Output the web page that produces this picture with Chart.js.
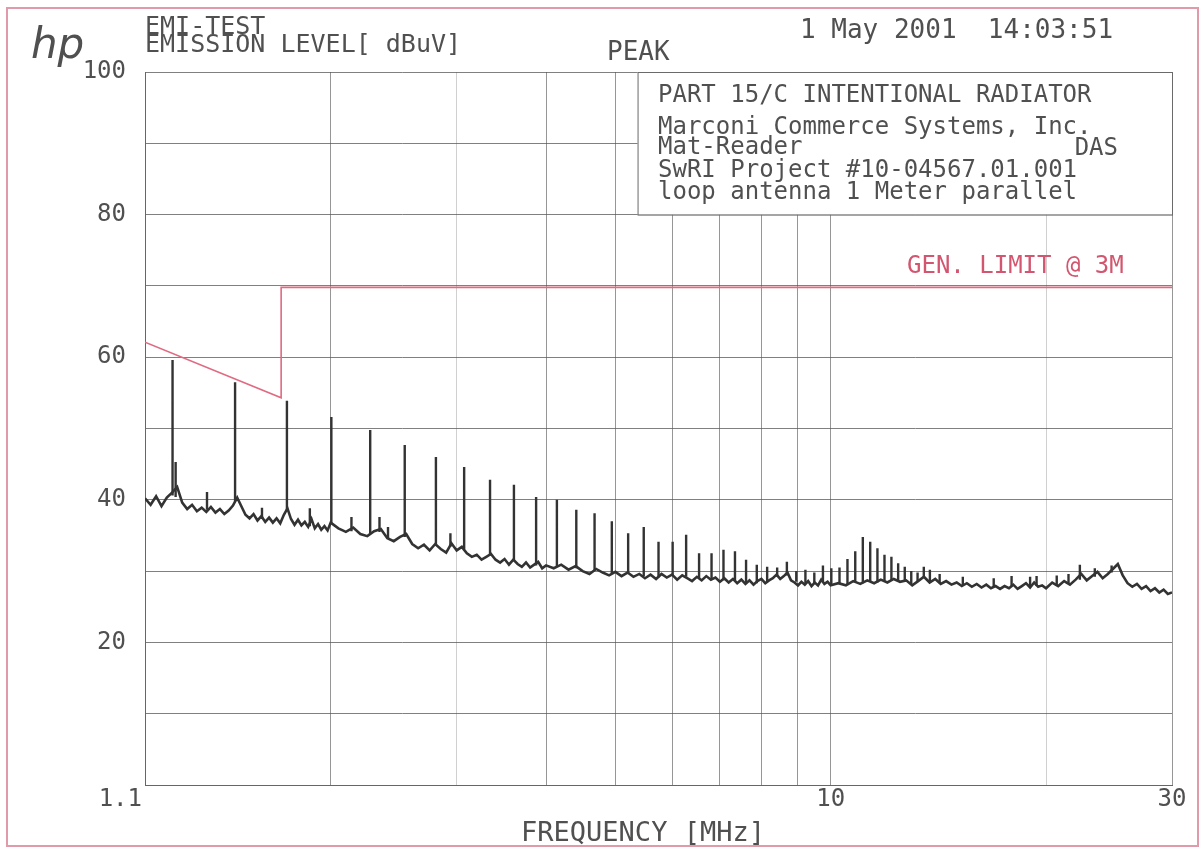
<!DOCTYPE html>
<html><head><meta charset="utf-8">
<script src="https://cdn.jsdelivr.net/npm/chart.js@4/dist/chart.umd.min.js"></script>
<style>html,body{margin:0;padding:0;background:#fff}canvas{display:block}</style>
</head><body>
<canvas id="c" width="1204" height="852"></canvas>
<script>
// ---- measured noise floor (frequency MHz, level dBuV) ----
const floorFreq = [
 1.10,1.12,1.14,1.16,1.18,1.20,1.22,1.24,1.26,1.28,1.30,1.32,1.34,1.36,1.38,1.40,1.42,1.44,1.46,1.48,
 1.50,1.52,1.54,1.56,1.58,1.60,1.62,1.64,1.66,1.68,1.70,1.72,1.74,1.76,1.78,1.80,1.82,1.84,1.86,1.88,
 1.90,1.92,1.94,1.96,1.98,2.00,
 2.05,2.10,2.15,2.20,2.25,2.30,2.35,2.40,2.45,2.50,2.55,2.60,2.65,2.70,2.75,2.80,2.85,2.90,2.95,3.00,
 3.05,3.10,3.15,3.20,3.25,3.30,3.35,3.40,3.45,3.50,3.55,3.60,3.65,3.70,3.75,3.80,3.85,3.90,3.95,4.00,
 4.1,4.2,4.3,4.4,4.5,4.6,4.7,4.8,4.9,5.0,5.1,5.2,5.3,5.4,5.5,5.6,5.7,5.8,5.9,6.0,
 6.1,6.2,6.3,6.4,6.5,6.6,6.7,6.8,6.9,7.0,7.1,7.2,7.3,7.4,7.5,7.6,7.7,7.8,7.9,8.0,
 8.1,8.2,8.3,8.4,8.5,8.6,8.7,8.8,8.9,9.0,9.1,9.2,9.3,9.4,9.5,9.6,9.7,9.8,9.9,10.0,
 10.25,10.5,10.75,11.0,11.25,11.5,11.75,12.0,12.25,12.5,12.75,13.0,13.25,13.5,13.75,14.0,14.25,14.5,14.75,15.0,
 15.25,15.5,15.75,16.0,16.25,16.5,16.75,17.0,17.25,17.5,17.75,18.0,18.25,18.5,18.75,19.0,19.25,19.5,19.75,20.0,
 20.4,20.8,21.2,21.6,22.0,22.4,22.8,23.2,23.6,24.0,24.4,24.8,25.2,25.6,26.0,26.4,26.8,27.2,27.6,28.0,
 28.4,28.8,29.2,29.6,30.0
];
const floorLevel = [
 40.2,39.3,40.5,39.1,40.3,41.0,41.8,39.6,38.7,39.3,38.4,38.9,38.3,39.0,38.2,38.7,38.0,38.5,39.2,40.3,
 39.1,37.9,37.4,38.0,37.1,37.7,36.9,37.5,36.8,37.4,36.7,37.9,38.8,37.3,36.5,37.2,36.4,36.9,36.2,37.3,
 36.0,36.6,35.8,36.3,35.7,36.8,
 36.0,35.5,36.1,35.2,34.9,35.6,35.9,34.6,34.2,34.8,35.2,33.8,33.2,33.7,32.9,33.8,33.1,32.6,33.9,32.9,
 33.4,32.5,32.0,32.3,31.6,32.0,32.4,31.6,31.2,31.7,30.9,31.6,31.0,30.6,31.2,30.5,30.9,31.3,30.4,30.8,
 30.4,30.9,30.2,30.7,30.0,29.6,30.3,29.8,29.4,29.9,29.3,29.8,29.2,29.6,29.0,29.5,28.9,29.6,29.1,29.5,
 28.8,29.4,29.0,28.6,29.2,28.7,29.3,28.8,29.1,28.5,29.0,28.4,28.9,28.3,28.8,28.2,28.7,28.1,28.6,28.9,
 28.3,28.7,29.0,29.5,28.9,29.3,29.8,28.7,28.4,28.0,28.5,28.1,28.6,27.9,28.4,28.0,28.8,28.2,28.5,28.0,
 28.3,28.0,28.6,28.2,28.7,28.3,28.8,28.4,28.9,28.5,28.7,28.0,28.6,29.2,28.4,28.9,28.2,28.6,28.1,28.4,
 27.9,28.3,27.8,28.2,27.7,28.1,27.6,27.9,27.5,27.9,27.6,28.1,27.5,27.9,28.3,27.7,28.4,27.8,28.0,27.6,
 28.4,27.9,28.6,28.1,28.8,29.6,28.7,29.3,29.9,29.0,29.6,30.3,31.0,29.4,28.3,27.8,28.2,27.5,27.9,27.2,
 27.6,27.0,27.4,26.8,27.0
];
// ---- harmonic spikes (frequency MHz, peak dBuV, foot dBuV) ----
const spikeFreq = [
 1.202,1.214,1.343,1.470,1.603,1.737,1.870,2.004,2.138,2.271,2.340,2.405,2.538,2.806,2.940,3.073,3.340,3.607,3.874,4.142,
 4.409,4.676,4.943,5.210,5.478,5.745,6.012,6.279,6.546,6.814,7.081,7.348,7.615,7.882,8.150,8.417,8.684,8.951,9.218,9.486,
 9.753,10.020,10.287,10.554,10.822,11.089,11.356,11.623,11.890,12.158,12.425,12.692,12.960,13.226,13.494,13.761,
 14.2,15.3,16.9,17.9,19.0,19.4,20.7,21.5,22.3,23.4,24.7
];
const spikePeak = [
 59.6,45.3,41.1,56.5,38.9,53.9,38.8,51.6,37.6,49.8,37.6,36.2,47.7,46.0,35.3,44.6,42.8,42.1,40.4,40.0,
 38.6,38.1,37.0,35.3,36.2,34.1,34.1,35.1,32.5,32.5,33.0,32.8,31.6,30.9,30.6,30.5,31.3,30.0,30.2,29.8,
 30.8,30.4,30.5,31.7,32.8,34.8,34.1,33.2,32.3,32.0,31.1,30.6,30.0,29.8,30.6,30.2,
 29.6,29.2,29.0,29.3,29.2,29.3,29.4,29.6,30.9,30.4,30.8
];
const spikeBase = [
 40.6,40.4,38.6,39.8,37.3,38.6,36.3,36.6,35.6,35.2,35.5,34.5,34.8,33.6,33.4,33.1,32.2,31.4,30.8,30.6,
 30.4,30.1,29.7,29.6,29.3,29.1,29.3,29.2,29.0,28.8,28.7,28.6,28.4,28.3,28.5,29.2,29.4,28.5,28.3,28.2,
 28.5,28.1,28.2,28.2,28.5,28.3,28.5,28.4,28.6,28.6,28.6,28.6,28.2,28.5,29.0,28.5,
 28.3,28.0,27.8,27.9,27.8,27.9,28.0,28.2,28.8,29.2,29.8
];
// ---- general limit @ 3 m ----
const limitFreq = [1.1, 1.705, 1.705, 30];
const limitLevel = [62.1, 54.3, 69.8, 69.8];
// ---- axes ----
const xGridValues = [1.1, 2, 3, 4, 5, 6, 7, 8, 9, 10, 20, 30];
const xFaintGrid = [3, 20];
const xLabelValues = [1.1, 10, 30];
const xLabelText = ['1.1', '10', '30'];
const xLabelAlign = ['right', 'center', 'center'];
const yLabelValues = [20, 40, 60, 80, 100];

const floorData = floorFreq.map((f, i) => ({x: f, y: floorLevel[i]}));
const spikeData = [];
spikeFreq.forEach((f, i) => {
  spikeData.push({x: f, y: spikeBase[i]}, {x: f, y: spikePeak[i]}, {x: f, y: null});
});
const limitData = limitFreq.map((f, i) => ({x: f, y: limitLevel[i]}));

const MONO = '"DejaVu Sans Mono", "Liberation Mono", monospace';
const INK = '#505050';
const RED = '#d2566f';

const decor = {
  id: 'decor',
  beforeDraw(chart) {
    const c = chart.ctx;
    c.save();
    c.fillStyle = '#fff';
    c.fillRect(0, 0, chart.width, chart.height);
    c.strokeStyle = 'rgba(215,120,140,0.75)';
    c.lineWidth = 2;
    c.strokeRect(7, 8, chart.width - 13, chart.height - 14);
    c.restore();
  },
  beforeDatasetsDraw(chart) {
    const c = chart.ctx, xs = chart.scales.x, ys = chart.scales.y;
    const l = xs.getPixelForValue(5.37), r = chart.chartArea.right;
    const t = ys.getPixelForValue(100), b = ys.getPixelForValue(80);
    c.save();
    c.fillStyle = '#fff';
    c.fillRect(l, t, r - l, b - t);
    c.strokeStyle = '#6a6a6a';
    c.lineWidth = 1;
    c.strokeRect(l + 0.5, t + 0.5, r - l, b - t);
    c.restore();
  },
  afterDraw(chart) {
    const c = chart.ctx, xs = chart.scales.x;
    c.save();
    c.fillStyle = INK;
    c.textBaseline = 'alphabetic';
    // hp logo
    c.font = 'italic 42px "DejaVu Sans", sans-serif';
    c.textAlign = 'left';
    c.fillText('hp', 31, 58);
    // header
    c.font = '25px ' + MONO;
    c.fillText('EMI-TEST', 145, 34);
    c.fillText('EMISSION LEVEL[ dBuV]', 145, 52);
    c.font = '26px ' + MONO;
    c.fillText('PEAK', 607, 60);
    c.fillText('1 May 2001  14:03:51', 800, 38);
    // text box
    c.font = '24px ' + MONO;
    c.fillText('PART 15/C INTENTIONAL RADIATOR', 658, 102);
    c.fillText('Marconi Commerce Systems, Inc.', 658, 134);
    c.fillText('Mat-Reader', 658, 154);
    c.textAlign = 'right';
    c.fillText('DAS', 1118, 155);
    c.textAlign = 'left';
    c.fillText('SwRI Project #10-04567.01.001', 658, 177);
    c.fillText('loop antenna 1 Meter parallel', 658, 199);
    // limit label
    c.fillStyle = RED;
    c.fillText('GEN. LIMIT @ 3M', 907, 273);
    // x labels
    c.fillStyle = INK;
    c.font = '24px ' + MONO;
    c.textBaseline = 'middle';
    xLabelValues.forEach((v, i) => {
      c.textAlign = xLabelAlign[i];
      const px = xs.getPixelForValue(v) + (xLabelAlign[i] === 'right' ? -3 : 0);
      c.fillText(xLabelText[i], px, 800);
    });
    c.textAlign = 'center';
    c.font = '27px ' + MONO;
    c.fillText('FREQUENCY [MHz]', 643, 834);
    c.restore();
  }
};

new Chart(document.getElementById('c'), {
  type: 'scatter',
  data: {
    datasets: [
      {data: floorData, showLine: true, borderColor: '#333', borderWidth: 2.6, pointRadius: 0, tension: 0},
      {data: spikeData, showLine: true, spanGaps: false, borderColor: '#333', borderWidth: 2.4, pointRadius: 0},
      {data: limitData, showLine: true, borderColor: '#e06a82', borderWidth: 1.6, pointRadius: 0}
    ]
  },
  options: {
    responsive: false,
    animation: false,
    devicePixelRatio: 1,
    layout: {padding: {top: 72, right: 32, bottom: 0, left: 0}},
    plugins: {legend: {display: false}, tooltip: {enabled: false}},
    scales: {
      x: {
        type: 'logarithmic', min: 1.1, max: 30,
        afterBuildTicks: s => { s.ticks = xGridValues.map(v => ({value: v})); },
        afterFit: s => { s.height = 67; },
        grid: {
          drawTicks: false, lineWidth: 1,
          color: ctx => (ctx.tick && xFaintGrid.includes(ctx.tick.value)) ? 'rgba(150,150,150,0.45)' : 'rgba(105,105,105,0.7)'
        },
        border: {display: true, color: '#666', width: 1},
        ticks: {callback: () => '', padding: 0}
      },
      y: {
        min: 0, max: 100,
        afterBuildTicks: s => { const t = []; for (let v = 0; v <= 100; v += 10) t.push({value: v}); s.ticks = t; },
        afterFit: s => { s.width = 145; },
        grid: {drawTicks: false, lineWidth: 1, color: 'rgba(85,85,85,0.75)'},
        border: {display: true, color: '#666', width: 1},
        ticks: {
          padding: 19, color: INK,
          font: {family: MONO, size: 24},
          callback: v => yLabelValues.includes(v) ? String(v) : ''
        }
      }
    }
  },
  plugins: [decor]
});
</script>
</body></html>
